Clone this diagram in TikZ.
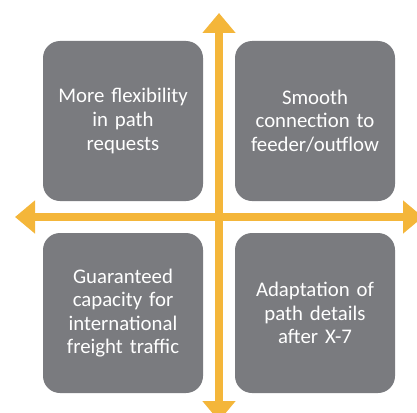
\documentclass[tikz,border=0pt]{standalone}
\usepackage{fontspec}
\setmainfont{Carlito}
\usetikzlibrary{arrows.meta,positioning}
\definecolor{boxgray}{RGB}{122,123,127}
\definecolor{axisorange}{RGB}{244,182,58}

\begin{document}
\begin{tikzpicture}[x=1pt,y=-1pt,
    quad/.style={fill=boxgray,rounded corners=17pt,minimum width=160pt,minimum height=160pt,
      text width=155pt,align=center,text=white,inner sep=0pt,
      font=\fontsize{20.8}{23.6}\selectfont},
    axis/.style={axisorange,line width=8pt,
      {Triangle[width=32pt,length=20pt]}-{Triangle[width=32pt,length=20pt]}}]
    \useasboundingbox (0,0) rectangle (417,412);

    \coordinate (Top)    at (219,13);
    \coordinate (Bottom) at (219,421);
    \coordinate (Left)   at (15,217);
    \coordinate (Right)  at (423,217);

    % the four quadrants
    \node[quad] (flex)     at (123,121) {More flexibility\\in path\\requests};
    \node[quad] (smooth)   at (315,121) {Smooth\\connection to\\feeder/outflow};
    \node[quad] (capacity) at (123,313) {Guaranteed\\capacity for\\international\\freight traffic};
    \node[quad] (adapt)    at (315,313) {Adaptation of\\path details\\after X-7};

    % the two axes
    \draw[axis] (Left) -- (Right);
    \draw[axis] (Bottom) -- (Top);
\end{tikzpicture}
\end{document}
